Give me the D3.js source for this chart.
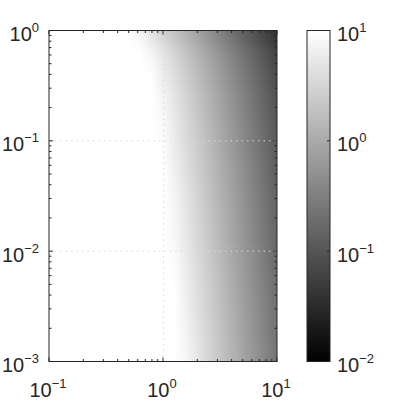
<!DOCTYPE html>
<html>
<head>
<meta charset="utf-8">
<script src="https://cdn.jsdelivr.net/npm/d3@7"></script>
<style>
  body { margin: 0; background: #fff; }
  svg { display: block; }
  text { font-family: "Liberation Sans", Arial, sans-serif; fill: #262626; }
</style>
</head>
<body>
<div id="chart"></div>
<script>
// log10(x) positions of the sampled columns (left of -0.6 everything is saturated white)
const xStops = [-0.6, -0.5, -0.4, -0.3, -0.2, -0.1, 0, 0.1, 0.2, 0.3, 0.4, 0.5, 0.6, 0.7, 0.8, 0.9, 1.0];

// log10(y) edges of the sampled rows, top to bottom (finer near the top where it bends)
const yEdges = [0, -0.05, -0.1, -0.15, -0.2, -0.25, -0.3, -0.4, -0.5, -0.6, -0.7, -0.8, -0.9, -1.0,
  -1.2, -1.4, -1.6, -1.8, -2.0, -2.2, -2.4, -2.6, -2.8, -3.0];

// log10 of the plotted value, one row per y band, one entry per x column
const logValues = [
  [1, 1, 1, 1, 0.83, 0.64, 0.45, 0.26, 0.07, -0.12, -0.31, -0.50, -0.69, -0.88, -1.07, -1.26, -1.45],
  [1, 1, 1, 1, 0.91, 0.72, 0.53, 0.34, 0.15, -0.04, -0.23, -0.42, -0.61, -0.80, -0.99, -1.18, -1.37],
  [1, 1, 1, 1, 0.98, 0.79, 0.60, 0.41, 0.22, 0.03, -0.16, -0.35, -0.54, -0.73, -0.92, -1.11, -1.30],
  [1, 1, 1, 1, 1, 0.85, 0.66, 0.47, 0.28, 0.09, -0.10, -0.29, -0.48, -0.67, -0.86, -1.05, -1.24],
  [1, 1, 1, 1, 1, 0.89, 0.70, 0.51, 0.32, 0.13, -0.06, -0.25, -0.44, -0.63, -0.82, -1.01, -1.20],
  [1, 1, 1, 1, 1, 0.92, 0.73, 0.54, 0.35, 0.16, -0.03, -0.22, -0.41, -0.60, -0.79, -0.98, -1.17],
  [1, 1, 1, 1, 1, 0.96, 0.77, 0.58, 0.39, 0.20, 0.01, -0.18, -0.37, -0.56, -0.75, -0.94, -1.13],
  [1, 1, 1, 1, 1, 1, 0.81, 0.62, 0.43, 0.24, 0.05, -0.14, -0.33, -0.52, -0.71, -0.90, -1.09],
  [1, 1, 1, 1, 1, 1, 0.85, 0.66, 0.47, 0.28, 0.09, -0.10, -0.29, -0.48, -0.67, -0.86, -1.05],
  [1, 1, 1, 1, 1, 1, 0.89, 0.70, 0.51, 0.32, 0.13, -0.06, -0.25, -0.44, -0.63, -0.82, -1.01],
  [1, 1, 1, 1, 1, 1, 0.91, 0.72, 0.53, 0.34, 0.15, -0.04, -0.23, -0.42, -0.61, -0.80, -0.99],
  [1, 1, 1, 1, 1, 1, 0.93, 0.74, 0.55, 0.36, 0.17, -0.02, -0.21, -0.40, -0.59, -0.78, -0.97],
  [1, 1, 1, 1, 1, 1, 0.95, 0.76, 0.57, 0.38, 0.19, 0.00, -0.19, -0.38, -0.57, -0.76, -0.95],
  [1, 1, 1, 1, 1, 1, 0.98, 0.79, 0.60, 0.41, 0.22, 0.03, -0.16, -0.35, -0.54, -0.73, -0.92],
  [1, 1, 1, 1, 1, 1, 1, 0.83, 0.64, 0.45, 0.26, 0.07, -0.12, -0.31, -0.50, -0.69, -0.88],
  [1, 1, 1, 1, 1, 1, 1, 0.87, 0.68, 0.49, 0.30, 0.11, -0.08, -0.27, -0.46, -0.65, -0.84],
  [1, 1, 1, 1, 1, 1, 1, 0.90, 0.71, 0.52, 0.33, 0.14, -0.05, -0.24, -0.43, -0.62, -0.81],
  [1, 1, 1, 1, 1, 1, 1, 0.92, 0.73, 0.54, 0.35, 0.16, -0.03, -0.22, -0.41, -0.60, -0.79],
  [1, 1, 1, 1, 1, 1, 1, 0.96, 0.77, 0.58, 0.39, 0.20, 0.01, -0.18, -0.37, -0.56, -0.75],
  [1, 1, 1, 1, 1, 1, 1, 0.99, 0.80, 0.61, 0.42, 0.23, 0.04, -0.15, -0.34, -0.53, -0.72],
  [1, 1, 1, 1, 1, 1, 1, 1, 0.83, 0.64, 0.45, 0.26, 0.07, -0.12, -0.31, -0.50, -0.69],
  [1, 1, 1, 1, 1, 1, 1, 1, 0.86, 0.67, 0.48, 0.29, 0.10, -0.09, -0.28, -0.47, -0.66],
  [1, 1, 1, 1, 1, 1, 1, 1, 0.89, 0.70, 0.51, 0.32, 0.13, -0.06, -0.25, -0.44, -0.63]
];

// tick values
const xTicks = [0.1, 1, 10];
const yTicks = [0.001, 0.01, 0.1, 1];
const cbTicks = [0.01, 0.1, 1, 10];
const xGrid = [1];
const yGrid = [0.01, 0.1];

const width = 407, height = 407;
const plot = { left: 49, right: 277, top: 30.5, bottom: 361.5 };
const bar = { left: 307, right: 330, top: 30.5, bottom: 361.5 };
const axisColor = "#262626";

const svg = d3.select("#chart").append("svg")
  .attr("width", width)
  .attr("height", height);

const x = d3.scaleLog().domain([0.1, 10]).range([plot.left, plot.right]);
const y = d3.scaleLog().domain([0.001, 1]).range([plot.bottom, plot.top]);
const cb = d3.scaleLog().domain([0.01, 10]).range([bar.bottom, bar.top]);
// gray colormap on the exponent, black = 1e-2, white = 1e1
const color = d3.scaleLinear().domain([-2, 1]).range(["#000000", "#ffffff"]).clamp(true);

const defs = svg.append("defs");

// one horizontal gradient per row band
defs.selectAll("linearGradient.row")
  .data(logValues)
  .join("linearGradient")
  .attr("class", "row")
  .attr("id", (d, i) => "row" + i)
  .attr("gradientUnits", "userSpaceOnUse")
  .attr("x1", x(0.1)).attr("x2", x(10))
  .attr("y1", 0).attr("y2", 0)
  .selectAll("stop")
  .data(d => d.map((v, j) => ({ v: v, lx: xStops[j] })))
  .join("stop")
  .attr("offset", s => (x(Math.pow(10, s.lx)) - x(0.1)) / (x(10) - x(0.1)))
  .attr("stop-color", s => color(s.v));

// clip to the axes, soften the seams between bands vertically
defs.append("clipPath").attr("id", "plotClip")
  .append("rect")
  .attr("x", plot.left).attr("y", plot.top)
  .attr("width", plot.right - plot.left).attr("height", plot.bottom - plot.top);

defs.append("filter").attr("id", "soft")
  .attr("x", "-5%").attr("y", "-5%").attr("width", "110%").attr("height", "110%")
  .append("feGaussianBlur").attr("stdDeviation", "0 7");

// heatmap bands (first and last band run past the axes so the blur has something to eat)
const pad = 30;
const last = logValues.length - 1;
const rowTop = i => y(Math.pow(10, yEdges[i]));
svg.append("g")
  .attr("clip-path", "url(#plotClip)")
  .append("g")
  .attr("filter", "url(#soft)")
  .selectAll("rect")
  .data(logValues)
  .join("rect")
  .attr("x", plot.left)
  .attr("width", plot.right - plot.left)
  .attr("y", (d, i) => rowTop(i) - (i === 0 ? pad : 0))
  .attr("height", (d, i) => rowTop(i + 1) - rowTop(i) + (i === 0 || i === last ? pad : 0) + (i < last ? 0.5 : 0))
  .attr("fill", (d, i) => `url(#row${i})`);

// dotted grid lines
const grid = svg.append("g")
  .attr("stroke", "#d9d9d9")
  .attr("stroke-width", 1)
  .attr("stroke-dasharray", "1.5,4");
grid.selectAll("line.gx").data(xGrid).join("line")
  .attr("class", "gx")
  .attr("x1", d => x(d) + 0.5).attr("x2", d => x(d) + 0.5)
  .attr("y1", plot.top).attr("y2", plot.bottom);
grid.selectAll("line.gy").data(yGrid).join("line")
  .attr("class", "gy")
  .attr("y1", d => y(d)).attr("y2", d => y(d))
  .attr("x1", plot.left).attr("x2", plot.right);

// major + minor log ticks inside a scale domain
function logTicks(scale) {
  const [a, b] = scale.domain();
  const out = [];
  for (let e = Math.round(Math.log10(a)); e <= Math.round(Math.log10(b)); e++) {
    for (let m = 1; m <= 9; m++) {
      const v = m * Math.pow(10, e);
      if (v >= a * 0.999 && v <= b * 1.001) out.push({ v: v, major: m === 1 });
    }
  }
  return out;
}

const ticks = svg.append("g").attr("stroke", axisColor).attr("stroke-width", 1);
const xt = logTicks(x), yt = logTicks(y);
const majorLen = 4, minorLen = 2.5;

ticks.selectAll("line.xb").data(xt).join("line")
  .attr("x1", d => x(d.v)).attr("x2", d => x(d.v))
  .attr("y1", plot.bottom).attr("y2", d => plot.bottom - (d.major ? majorLen : minorLen));
ticks.selectAll("line.xt").data(xt).join("line")
  .attr("x1", d => x(d.v)).attr("x2", d => x(d.v))
  .attr("y1", plot.top).attr("y2", d => plot.top + (d.major ? majorLen : minorLen));
ticks.selectAll("line.yl").data(yt).join("line")
  .attr("y1", d => y(d.v)).attr("y2", d => y(d.v))
  .attr("x1", plot.left).attr("x2", d => plot.left + (d.major ? majorLen : minorLen));
ticks.selectAll("line.yr").data(yt).join("line")
  .attr("y1", d => y(d.v)).attr("y2", d => y(d.v))
  .attr("x1", plot.right).attr("x2", d => plot.right - (d.major ? majorLen : minorLen));

// plot box
svg.append("rect")
  .attr("x", plot.left).attr("y", plot.top)
  .attr("width", plot.right - plot.left).attr("height", plot.bottom - plot.top)
  .attr("fill", "none").attr("stroke", axisColor).attr("stroke-width", 1);

// "10" with superscript exponent
function powerLabel(sel) {
  sel.append("tspan").text("10");
  sel.append("tspan")
    .attr("dy", -9)
    .style("font-size", "13px")
    .text(d => Math.round(Math.log10(d)).toString().replace("-", "\u2212"));
}

svg.append("g").selectAll("text").data(xTicks).join("text")
  .attr("x", d => x(d) - 1)
  .attr("y", 397)
  .attr("text-anchor", "middle")
  .style("font-size", "20px")
  .call(powerLabel);

svg.append("g").selectAll("text").data(yTicks).join("text")
  .attr("x", 39)
  .attr("y", d => y(d) + 10.5)
  .attr("text-anchor", "end")
  .style("font-size", "20px")
  .call(powerLabel);

// colorbar
const barGrad = defs.append("linearGradient")
  .attr("id", "bar")
  .attr("gradientUnits", "userSpaceOnUse")
  .attr("x1", 0).attr("x2", 0)
  .attr("y1", bar.bottom).attr("y2", bar.top);
barGrad.selectAll("stop").data(color.domain()).join("stop")
  .attr("offset", (d, i) => i)
  .attr("stop-color", d => color(d));

svg.append("rect")
  .attr("x", bar.left).attr("y", bar.top)
  .attr("width", bar.right - bar.left).attr("height", bar.bottom - bar.top)
  .attr("fill", "url(#bar)")
  .attr("stroke", axisColor).attr("stroke-width", 1);

svg.append("g").attr("stroke", axisColor)
  .selectAll("line").data(cbTicks.slice(1, -1)).join("line")
  .attr("x1", bar.right).attr("x2", bar.right - 3)
  .attr("y1", d => cb(d)).attr("y2", d => cb(d));

svg.append("g").selectAll("text").data(cbTicks).join("text")
  .attr("x", 337)
  .attr("y", d => cb(d) + 10.5)
  .attr("text-anchor", "start")
  .style("font-size", "20px")
  .call(powerLabel);
</script>
</body>
</html>
